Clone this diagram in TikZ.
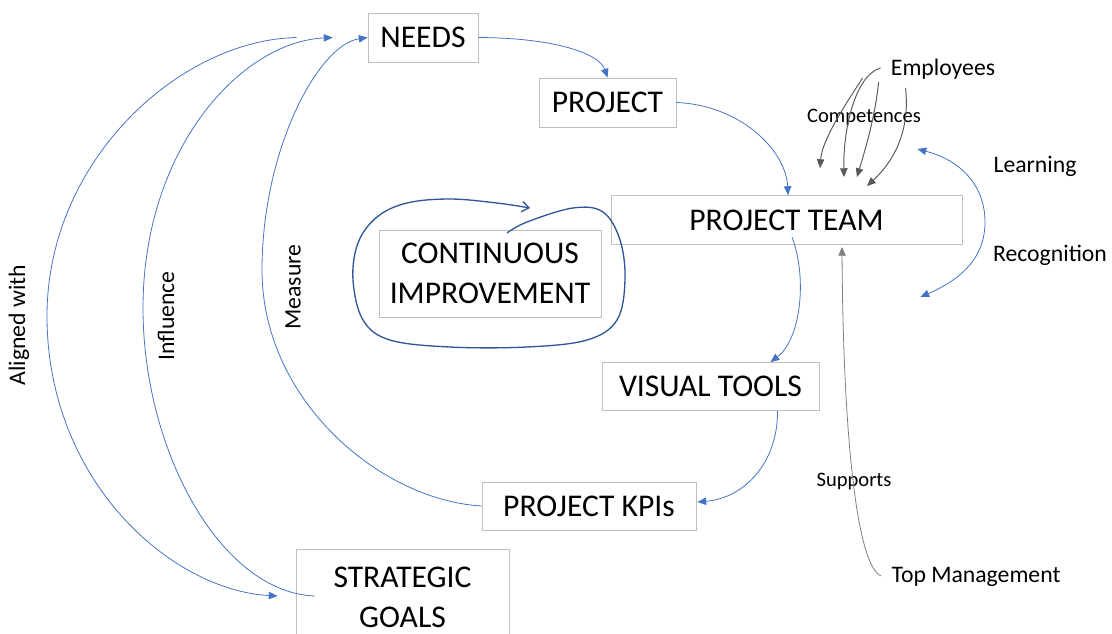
\documentclass[tikz,border=0pt]{standalone}
\usepackage{fontspec}
\setmainfont{Carlito}
\usetikzlibrary{arrows.meta,calc}
\definecolor{conblue}{HTML}{4472C4}
\definecolor{loopblue}{HTML}{2F5597}
\definecolor{boxgray}{HTML}{BFBFBF}
\definecolor{arrgray}{HTML}{595959}
\definecolor{supgray}{HTML}{7F7F7F}
\tikzset{
  box/.style={draw=boxgray, line width=0.5pt, rectangle, inner sep=0pt, align=center,
    font=\fontsize{18}{22.7}\selectfont},
  lbl/.style={inner sep=0pt, font=\fontsize{13.5}{16}\selectfont},
  slbl/.style={inner sep=0pt, font=\fontsize{11.7}{14}\selectfont},
  con/.style={draw=conblue, line width=0.45pt, -{Triangle[length=5pt,width=4.2pt]}},
  dcon/.style={draw=conblue, line width=0.45pt, {Triangle[length=5pt,width=4.2pt]}-{Triangle[length=5pt,width=4.2pt]}},
  gcon/.style={draw=arrgray, line width=0.55pt, -{Triangle[length=5pt,width=4.2pt]}},
  scon/.style={draw=supgray, line width=0.45pt, -{Triangle[length=5pt,width=4.2pt]}},
  loopline/.style={draw=loopblue, line width=0.75pt, -{Straight Barb[length=4pt,width=6pt]}},
}
\begin{document}
\begin{tikzpicture}[x=0.02cm, y=-0.02cm]
\useasboundingbox (0,0) rectangle (1112,633);

% boxes
\node[box, minimum width=2.2cm, minimum height=0.98cm] (needs) at (423,37.5) {NEEDS};
\node[box, minimum width=2.74cm, minimum height=0.98cm] (project) at (607.5,102.5) {PROJECT};
\node[box, minimum width=7.02cm, minimum height=0.98cm] (team) at (786.5,220) {PROJECT TEAM};
\node[box, minimum width=4.44cm, minimum height=1.74cm] (ci) at (490,273.5) {CONTINUOUS\\IMPROVEMENT};
\node[box, minimum width=4.34cm, minimum height=0.96cm] (visual) at (710.5,386.5) {VISUAL TOOLS};
\node[box, minimum width=4.28cm, minimum height=0.96cm] (kpis) at (589,506) {PROJECT KPIs};
\node[box, minimum width=4.26cm, minimum height=1.92cm] (strategic) at (402.5,597.5) {STRATEGIC\\GOALS};

% free labels
\node[lbl] (employees) at (943,69) {Employees};
\node[slbl] (competences) at (864,117) {Competences};
\node[lbl] (learning) at (1035,166) {Learning};
\node[lbl] (recognition) at (1050,255) {Recognition};
\node[slbl] (supports) at (854,481) {Supports};
\node[lbl] (topmgmt) at (976,577) {Top Management};
\node[lbl, rotate=90] (aligned) at (19,325) {Aligned with};
\node[lbl, rotate=90] (influence) at (166,316) {Influence};
\node[lbl, rotate=90] (measure) at (293,287) {Measure};

% main flow
\draw[con] (needs.east) .. controls (560,38) and (600,55) .. (project.north);
\draw[con] (project.east) .. controls (740,105) and (786,150) .. ($(team.north)+(1.5,0)$);
\draw[con] ($(team.south)+(5.5,-8)$) .. controls (808,280) and (800,340) .. ($(visual.north)+(60,0)$);
\draw[con] ($(visual.south)+(67,0)$) .. controls (778,462) and (745,498) .. ($(kpis.east)+(1,-4)$);

% left arcs
\draw[con] (kpis.west) .. controls (380,500) and (262,400) .. (262,270)
  .. controls (262,150) and (318,45) .. (needs.west);
\draw[con] ($(strategic.west)+(19,-1.5)$) .. controls (220,592) and (143,450) .. (143,308)
  .. controls (143,150) and (240,42) .. ($(needs.west)+(-35,0)$);
\draw[con] ($(needs.west)+(-71,0)$) .. controls (180,40) and (47,160) .. (47,316)
  .. controls (47,480) and (170,590) .. ($(strategic.west)+(-18,-1.5)$);

% continuous improvement loop
\draw[loopline] plot[smooth, tension=0.6] coordinates {
  (507,233) (527,222) (573,208) (603,212) (620,240) (625,280) (617,320) (587,340)
  (527,347) (450,347) (390,340) (363,320) (353,280) (358,243) (377,217) (407,203)
  (450,199) (497,203) (530,208)};

% employees -> team
\draw[gcon] ($(employees.west)+(-28,9)$) .. controls (845,105) and (822,140) .. ($(team.north)+(33.5,-27)$);
\draw[gcon] ($(employees.west)+(-10,-1)$) .. controls (855,75) and (843,130) .. ($(team.north)+(57.5,-18)$);
\draw[gcon] ($(employees.west)+(-12,13)$) .. controls (875,120) and (862,160) .. ($(team.north)+(70.5,-18)$);
\draw[gcon] ($(employees.west)+(15,19)$) .. controls (910,130) and (895,160) .. ($(team.north)+(80.5,-9)$);

% learning / recognition
\draw[dcon] ($(team.north east)+(-45,-46)$) .. controls (960,160) and (985,185) .. (985,222)
  .. controls (985,262) and (955,282) .. ($(team.south east)+(-42,52)$);

% supports
\draw[scon] ($(topmgmt.west)+(-10,-1)$) .. controls (855,565) and (843,420) .. ($(team.south)+(55.5,2)$);
\end{tikzpicture}
\end{document}
